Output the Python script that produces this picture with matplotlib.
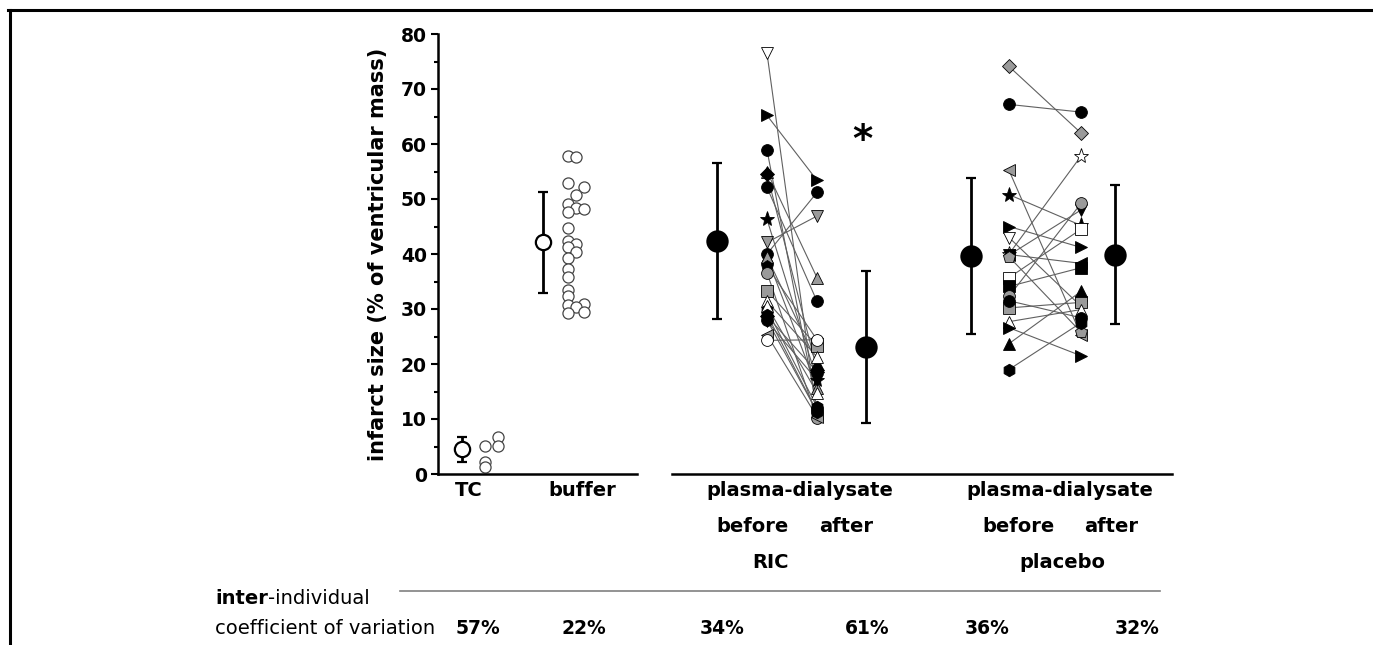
import numpy as np
import matplotlib
matplotlib.use('Agg')
import matplotlib.pyplot as plt
from matplotlib.lines import Line2D
from matplotlib.ticker import MultipleLocator

plt.rcParams['font.family'] = ['DejaVu Sans']

W, H = 1373, 645

# ---- data (infarct size, % of ventricular mass) ----
tc_vals = [5.1, 2.2, 1.3, 6.7, 5.1]
tc_cols = [0, 0, 0, 1, 1]
tc_mean, tc_sd = 4.5, 2.3

buffer_vals = [57.8, 57.6, 52.9, 52.1, 50.7, 49.1, 48.3, 48.2, 47.6, 44.8, 42.4, 41.9,
               41.2, 40.4, 39.2, 37.3, 35.9, 33.5, 32.3, 30.7, 30.9, 30.3, 29.3, 29.4]
buffer_cols = [0, 1, 0, 2, 1, 0, 1, 2, 0, 0, 0, 1, 0, 1, 0, 0, 0, 0, 0, 0, 2, 1, 0, 2]
buffer_mean, buffer_sd = 42.1, 9.2

ric_marker = ['v', '>', 'o', '^', 'D', 'o', '*', 'v', 'o', '^', '^', 'p',
              'o', 's', '^', 'h', 'D', 'o', '<', 'o', 'v', '^', 'h']
ric_face = ['w', 'k', 'k', 'g', 'k', 'k', 'k', 'g', 'k', 'k', 'g', 'k',
            'g', 'g', 'w', 'k', 'k', 'k', 'g', 'w', 'k', 'w', 'k']
ric_before = [76.5, 65.2, 58.9, 55.0, 54.5, 52.1, 46.3, 42.1, 40.0, 39.5, 39.4, 37.8,
              36.6, 33.3, 31.4, 29.9, 28.7, 28.0, 25.3, 24.3, 27.8, 30.5, 29.0]
ric_after = [10.5, 53.4, 12.0, 35.7, 19.0, 31.4, 17.1, 46.9, 51.2, 20.2, 15.7, 24.4,
             10.2, 23.3, 21.3, 12.2, 18.6, 11.3, 10.4, 24.4, 17.1, 14.8, 11.3]
ric_mean = [42.3, 23.1]
ric_sd = [14.2, 13.8]

pla_marker = ['D', 'o', '<', '*', '>', 'v', '*', 'v', '<', 'p', 's', 's',
              'o', 's', '^', '>', '^', 'h', 'o']
pla_face = ['g', 'k', 'g', 'k', 'k', 'w', 'w', 'k', 'k', 'g', 'w', 'k',
            'g', 'g', 'w', 'k', 'k', 'k', 'k']
pla_before = [74.1, 67.2, 55.2, 50.8, 45.0, 43.0, 40.0, 39.8, 39.9, 39.5, 35.7, 34.1,
              32.3, 30.2, 27.7, 26.6, 23.7, 19.0, 31.5]
pla_after = [62.0, 65.8, 25.3, 45.2, 41.2, 30.5, 57.8, 48.0, 38.3, 25.8, 44.5, 37.5,
             49.2, 31.2, 29.9, 21.5, 33.2, 27.5, 28.4]
pla_mean = [39.6, 39.9]
pla_sd = [14.2, 12.6]

cv_labels = ['57%', '22%', '34%', '61%', '36%', '32%']

# ---- layout (x in pixel-like units of the figure) ----
pos = {'tc_mean': 462, 'tc_pts': 485, 'buf_mean': 543, 'buf_pts': 568,
       'ric_mean_b': 717, 'ric_b': 767, 'ric_a': 817, 'ric_mean_a': 866,
       'pla_mean_b': 971, 'pla_b': 1009, 'pla_a': 1081, 'pla_mean_a': 1115}
face_col = {'k': 'black', 'w': 'white', 'g': '#9a9a9a'}
msize = {'o': 8.5, 's': 8, 'D': 7, '^': 9, 'v': 9, '<': 9, '>': 9,
         '*': 11, 'p': 9, 'h': 9}

fig = plt.figure(figsize=(W / 100, H / 100), dpi=100)
ax = fig.add_axes([438 / W, 1 - 474 / H, (1172 - 438) / W, (474 - 34) / H])
ax.set_xlim(438, 1172)
ax.set_ylim(0, 80)

# TC + buffer individual open circles
ax.plot([pos['tc_pts'] + 13 * c for c in tc_cols], tc_vals, 'o', ms=8, mfc='white',
        mec='#444444', mew=0.9, ls='none', zorder=3, clip_on=False)
ax.plot([pos['buf_pts'] + 8 * c for c in buffer_cols], buffer_vals, 'o', ms=8,
        mfc='white', mec='#444444', mew=0.9, ls='none', zorder=3)

# group means +/- SD
def mean_bar(x, m, s, face, ms):
    ax.errorbar(x, m, yerr=s, fmt='o', ms=ms, mfc=face, mec='black', mew=1.6,
                ecolor='black', elinewidth=2, capsize=3.5, capthick=2, zorder=4,
                clip_on=False)

mean_bar(pos['tc_mean'], tc_mean, tc_sd, 'white', 11)
mean_bar(pos['buf_mean'], buffer_mean, buffer_sd, 'white', 11)
mean_bar(pos['ric_mean_b'], ric_mean[0], ric_sd[0], 'black', 14.5)
mean_bar(pos['ric_mean_a'], ric_mean[1], ric_sd[1], 'black', 14.5)
mean_bar(pos['pla_mean_b'], pla_mean[0], pla_sd[0], 'black', 14.5)
mean_bar(pos['pla_mean_a'], pla_mean[1], pla_sd[1], 'black', 14.5)

# paired before/after
def pairs(xb, xa, markers, faces, before, after):
    for mk, fc, b, a in zip(markers, faces, before, after):
        ax.plot([xb, xa], [b, a], color='#606060', lw=0.8, zorder=2)
        ax.plot([xb, xa], [b, a], marker=mk, ls='none', ms=msize[mk],
                mfc=face_col[fc], mec='black', mew=0.6, zorder=3)

pairs(pos['ric_b'], pos['ric_a'], ric_marker, ric_face, ric_before, ric_after)
pairs(pos['pla_b'], pos['pla_a'], pla_marker, pla_face, pla_before, pla_after)

ax.text(862, 60.5, '*', fontsize=28, fontweight='bold', ha='center', va='center')

# axes styling
for sp in ['top', 'right', 'bottom']:
    ax.spines[sp].set_visible(False)
ax.spines['left'].set_linewidth(1.8)
ax.plot([438, 637], [0, 0], color='black', lw=1.8, clip_on=False, zorder=5)
ax.plot([672, 1172], [0, 0], color='black', lw=1.8, clip_on=False, zorder=5)
ax.set_xticks([])
ax.yaxis.set_major_locator(MultipleLocator(10))
ax.yaxis.set_minor_locator(MultipleLocator(5))
ax.tick_params(axis='y', which='major', direction='out', length=5, width=1.5,
               labelsize=13.5, pad=3)
ax.tick_params(axis='y', which='minor', direction='out', length=3, width=1.5)
for lab in ax.get_yticklabels():
    lab.set_fontweight('bold')
ax.set_ylabel('infarct size (% of ventricular mass)', fontsize=15, fontweight='bold',
              labelpad=9)

# text under the axis
def ftext(x, y, s, **kw):
    return fig.text(x / W, 1 - y / H, s, ha=kw.pop('ha', 'center'), va='center', **kw)

bold = dict(fontsize=14, fontweight='bold')
ftext(469, 490, 'TC', **bold)
ftext(582, 490, 'buffer', **bold)
ftext(800, 490, 'plasma-dialysate', **bold)
ftext(1060, 490, 'plasma-dialysate', **bold)
ftext(753, 527, 'before', **bold)
ftext(846, 527, 'after', **bold)
ftext(1019, 527, 'before', **bold)
ftext(1111, 527, 'after', **bold)
ftext(770, 563, 'RIC', **bold)
ftext(1062, 563, 'placebo', **bold)

fig.add_artist(Line2D([400 / W, 1160 / W], [1 - 591 / H] * 2, color='#808080', lw=1.2))

t_inter = ftext(215, 598, 'inter', ha='left', fontsize=14, fontweight='bold')
fig.add_artist(plt.Annotation('-individual', xy=(1, 0), xycoords=t_inter,
                              ha='left', va='bottom', fontsize=14))
ftext(215, 628, 'coefficient of variation', ha='left', fontsize=14)
for x, s in zip([478, 584, 722, 867, 987, 1137], cv_labels):
    ftext(x, 628, s, fontsize=13.5, fontweight='bold')

# page frame
fig.add_artist(Line2D([8 / W, 1.0], [1 - 10 / H] * 2, color='black', lw=2.2))
fig.add_artist(Line2D([10 / W] * 2, [1 - 10 / H, 0.0], color='black', lw=2.2))

fig.savefig('out.png', dpi=100)
